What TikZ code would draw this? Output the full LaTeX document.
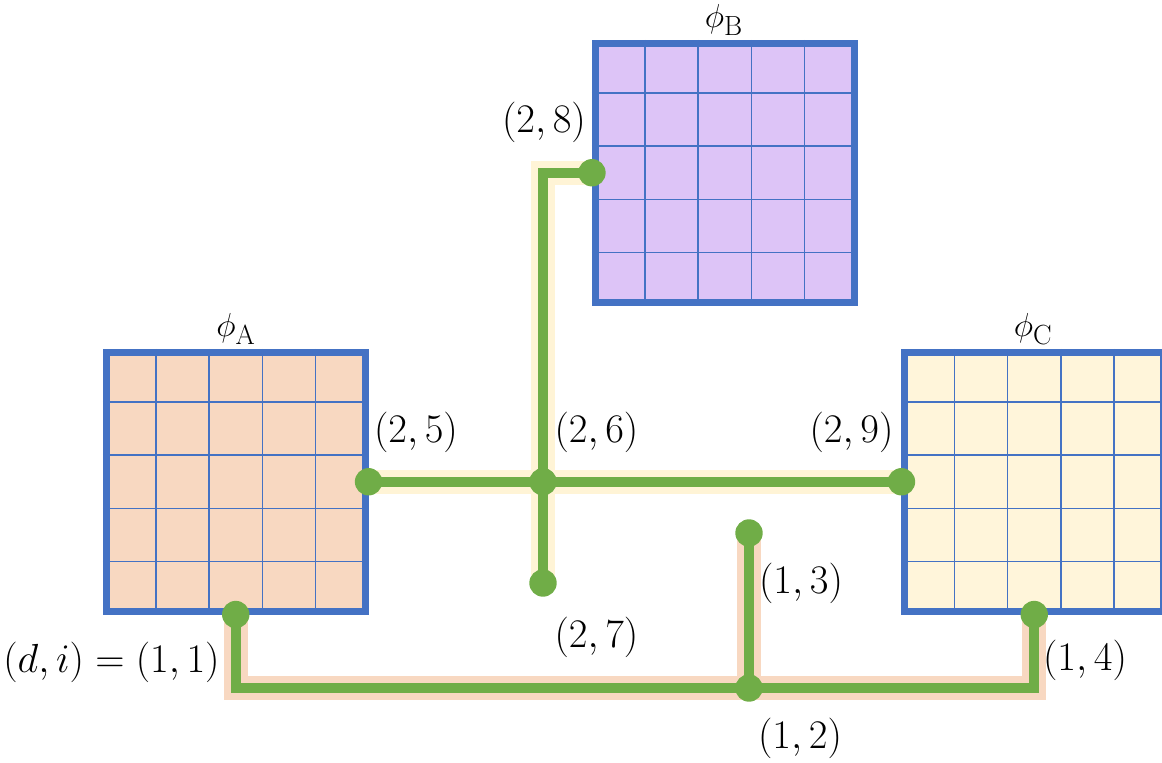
\documentclass[tikz,border=0pt]{standalone}
\usepackage{amsmath}
\usetikzlibrary{calc}
\definecolor{gblue}{HTML}{4472C4}
\definecolor{ggreen}{HTML}{70AD47}
\definecolor{fillA}{HTML}{F8D8C1}
\definecolor{fillB}{HTML}{DDC4F7}
\definecolor{fillC}{HTML}{FFF5DA}
\definecolor{hlY}{HTML}{FFF4D6}
\definecolor{hlP}{HTML}{F8D8C1}
\tikzset{
  gridbox/.style={draw=gblue, line width=5pt, inner sep=0pt, minimum width=6.4625cm, minimum height=6.4625cm},
  cellline/.style={draw=gblue, line width=1.1pt},
  dot/.style={circle, fill=ggreen, inner sep=0pt, minimum size=19.5pt},
  wire/.style={draw=ggreen, line width=7pt},
  hly/.style={draw=hlY, line width=17pt},
  hlp/.style={draw=hlP, line width=17pt},
  lab/.style={font=\Huge, scale=1.16, inner sep=0pt},
  philab/.style={font=\Huge, scale=0.95, inner sep=0pt},
}
\newcommand{\cellgrid}[1]{%
  \foreach \k in {1,...,4} {
    \draw[cellline] ($(#1.north west)!\k/5!(#1.north east)$) -- ($(#1.south west)!\k/5!(#1.south east)$);
    \draw[cellline] ($(#1.north west)!\k/5!(#1.south west)$) -- ($(#1.north east)!\k/5!(#1.south east)$);
  }}
\begin{document}
\begin{tikzpicture}[x=0.025cm, y=-0.025cm]
\useasboundingbox (0,0) rectangle (1162,762);
% grids
\node[gridbox, fill=fillA] (A) at (235.75,481.75) {};
\cellgrid{A}
\node[gridbox, fill=fillB] (B) at (724.75,172.75) {};
\cellgrid{B}
\node[gridbox, fill=fillC] (C) at (1034.25,481.75) {};
\cellgrid{C}
% dot positions
\coordinate (p25) at (A.east);
\coordinate (p29) at (C.west);
\coordinate (p28) at (B.west);
\coordinate (p26) at (543,481.75);
\coordinate (p27) at (543,583);
\coordinate (p11) at (A.south);
\coordinate (p14) at (C.south);
\coordinate (p12) at (749,688);
\coordinate (p13) at (749,533);
% highlights
\draw[hly] (p25) -- (p29);
\draw[hly] (p28) -| (p27);
\draw[hlp] (p11) |- (p12) -| (p14);
\draw[hlp] (p13) -- (p12);
% wires
\draw[wire] (p25) -- (p29);
\draw[wire] (p28) -| (p27);
\draw[wire] (p11) |- (p12) -| (p14);
\draw[wire] (p13) -- (p12);
% dots
\foreach \p in {p25,p26,p27,p28,p29,p11,p12,p13,p14}
  \node[dot] (d\p) at (\p) {};
% labels
\node[philab] (tA) at (236,329) {$\phi_{\mathrm{A}}$};
\node[philab] (tB) at (724,20) {$\phi_{\mathrm{B}}$};
\node[philab] (tC) at (1033,329) {$\phi_{\mathrm{C}}$};
\node[lab] (l28) at (544,122) {$(2,8)$};
\node[lab] (l25) at (416,432) {$(2,5)$};
\node[lab] (l26) at (596.5,432) {$(2,6)$};
\node[lab] (l29) at (851.5,432) {$(2,9)$};
\node[lab] (l27) at (596.5,637) {$(2,7)$};
\node[lab] (l13) at (801,583) {$(1,3)$};
\node[lab] (l14) at (1085,660) {$(1,4)$};
\node[lab] (l12) at (800,738) {$(1,2)$};
\node[lab] (l11) at (111.5,662) {$(d,i)=(1,1)$};
\end{tikzpicture}
\end{document}
